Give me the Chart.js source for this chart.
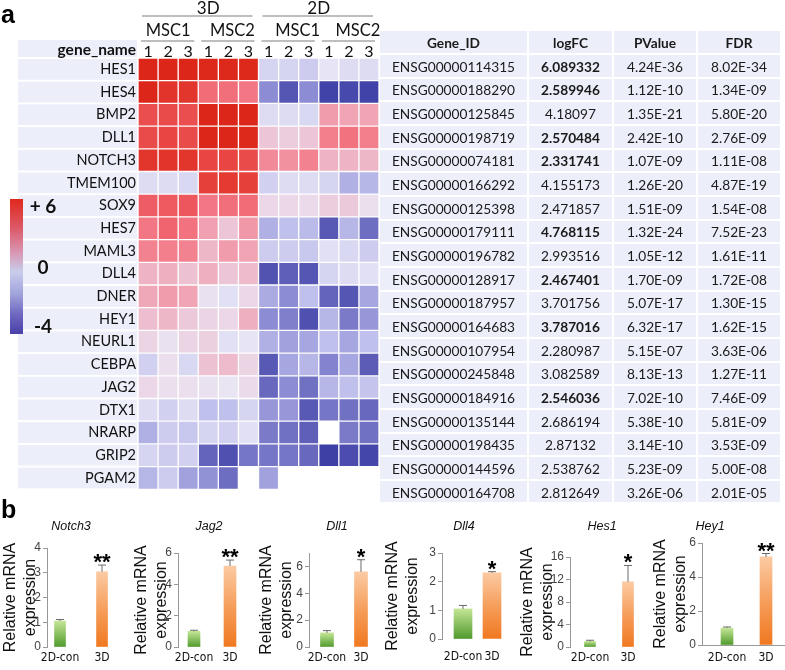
<!DOCTYPE html>
<html><head><meta charset="utf-8">
<script src="https://cdn.jsdelivr.net/npm/chart.js@4.4.1/dist/chart.umd.min.js"></script>
<style>
html,body{margin:0;padding:0;background:#fff}
body{width:785px;height:670px;position:relative;overflow:hidden}
canvas{position:absolute;display:block}
.lbl{position:absolute;font-family:Arial,'Liberation Sans',sans-serif;font-weight:bold;color:#000}
.leg{position:absolute;font-family:Lato,sans-serif;font-weight:bold;font-size:19px;line-height:19px;color:#111;text-align:center;width:40px;white-space:nowrap}
#tbl{position:absolute;left:380px;top:31px;display:grid;grid-template-columns:147px 83px 82px 82px;grid-template-rows:22px repeat(19,21.67px);gap:2px}
#tbl div{background:#eceef9;font-family:Lato,sans-serif;font-size:13.7px;color:#1a1a1a;display:flex;align-items:center;justify-content:center;white-space:nowrap;padding-top:1px;box-sizing:border-box}
#tbl div.h,#tbl div.b{font-weight:bold}
</style></head>
<body>
<canvas id="heat" width="383" height="500" style="left:0;top:0;width:383px;height:500px"></canvas>
<div id="tbl"></div>
<div class="lbl" style="left:1px;top:2px;font-size:25px;line-height:25px">a</div>
<div class="lbl" style="left:1px;top:497px;font-size:25px;line-height:25px">b</div>
<div style="position:absolute;left:10px;top:199px;width:13px;height:135px;background:linear-gradient(to bottom,#e0281c 0%,#dc5a6a 22%,#d898b4 40%,#c8cdec 54%,#a2a4dc 70%,#6c66c0 86%,#4a40a8 100%)"></div>
<div class="leg" style="left:23px;top:196px">+ 6</div>
<div class="leg" style="left:23px;top:257px">0</div>
<div class="leg" style="left:23px;top:316px">-4</div>
<script>
// ---------- heatmap data ----------
const genes = ['HES1','HES4','BMP2','DLL1','NOTCH3','TMEM100','SOX9','HES7','MAML3','DLL4','DNER','HEY1','NEURL1','CEBPA','JAG2','DTX1','NRARP','GRIP2','PGAM2'];
const conditions = ['3D','2D'];
const donors = ['MSC1','MSC2','MSC1','MSC2'];
const reps = ['1','2','3','1','2','3','1','2','3','1','2','3'];
const heatValues = [
 [6.0,6.0,6.0,5.9,5.9,5.9,-0.5,-0.5,-0.7,-0.1,-0.3,-0.3],
 [6.0,5.3,5.2,3.4,3.3,3.1,-2.0,-3.3,-2.0,-3.9,-3.7,-3.9],
 [4.3,4.4,4.3,6.0,6.0,6.0,-0.3,-0.3,-0.4,2.1,1.9,1.9],
 [4.4,4.6,4.4,6.0,6.0,5.9,1.0,0.8,1.0,2.9,3.2,2.9],
 [5.2,5.3,5.2,4.6,4.6,4.4,2.6,2.4,2.8,1.5,1.5,1.4],
 [-0.3,-0.3,-0.4,4.8,5.0,4.8,-0.6,-0.3,-0.3,-0.5,-1.3,-1.2],
 [3.8,3.9,4.0,3.1,3.3,3.4,0.5,0.5,0.4,0.8,0.9,0.3],
 [3.1,3.6,3.2,2.0,1.0,2.2,-1.3,-1.0,-1.1,-3.2,-1.2,-2.7],
 [2.8,2.9,2.8,1.4,2.1,1.9,-0.7,-0.7,-0.8,-0.2,-0.4,-0.7],
 [1.5,1.6,1.1,1.6,1.0,1.3,-3.4,-3.0,-3.3,-0.5,-0.3,-0.2],
 [1.8,2.1,1.9,0.2,-0.2,0.5,-1.4,-2.0,-1.0,-2.9,-3.3,-1.5],
 [1.2,1.4,0.9,0.6,0.5,1.6,-2.0,-2.3,-3.5,-1.2,-2.4,-1.8],
 [0.6,0.2,0.6,0.7,-0.2,-0.1,-1.3,-1.6,-1.5,-1.0,-1.5,-1.0],
 [-0.6,0.3,-0.4,1.1,1.3,0.6,-3.2,-1.5,-1.2,-2.2,-1.5,-3.1],
 [0.5,0.3,0.3,0.2,0.1,0.4,-2.8,-2.0,-2.6,-1.2,-1.0,-0.9],
 [-0.3,-0.6,-0.3,-1.0,-1.0,-0.5,-1.8,-1.8,-3.2,-2.5,-2.6,-2.8],
 [-1.3,-0.7,-0.8,-0.5,-0.6,-0.2,-2.4,-2.6,-3.0,null,-2.4,-2.6],
 [-0.5,-0.7,-0.6,-2.9,-3.5,-2.5,-2.5,-2.5,-2.8,-4.0,-3.6,-3.8],
 [-1.2,-0.7,-1.6,-1.9,-2.7,null,-1.6,null,null,null,null,null]
];
// ---------- table data ----------
const geneIds = ['ENSG00000114315','ENSG00000188290','ENSG00000125845','ENSG00000198719','ENSG00000074181','ENSG00000166292','ENSG00000125398','ENSG00000179111','ENSG00000196782','ENSG00000128917','ENSG00000187957','ENSG00000164683','ENSG00000107954','ENSG00000245848','ENSG00000184916','ENSG00000135144','ENSG00000198435','ENSG00000144596','ENSG00000164708'];
const logFC = ['6.089332','2.589946','4.18097','2.570484','2.331741','4.155173','2.471857','4.768115','2.993516','2.467401','3.701756','3.787016','2.280987','3.082589','2.546036','2.686194','2.87132','2.538762','2.812649'];
const pValues = ['4.24E-36','1.12E-10','1.35E-21','2.42E-10','1.07E-09','1.26E-20','1.51E-09','1.32E-24','1.05E-12','1.70E-09','5.07E-17','6.32E-17','5.15E-07','8.13E-13','7.02E-10','5.38E-10','3.14E-10','5.23E-09','3.26E-06'];
const fdrValues = ['8.02E-34','1.34E-09','5.80E-20','2.76E-09','1.11E-08','4.87E-19','1.54E-08','7.52E-23','1.61E-11','1.72E-08','1.30E-15','1.62E-15','3.63E-06','1.27E-11','7.46E-09','5.81E-09','3.53E-09','5.00E-08','2.01E-05'];
const boldFC = [1,1,0,1,1,0,0,1,0,1,0,1,0,0,1,0,0,0,0];
const tableHeader = ['Gene_ID','logFC','PValue','FDR'];
// ---------- qPCR data ----------
const qGenes = ['Notch3','Jag2','Dll1','Dll4','Hes1','Hey1'];
const groups = ['2D-con','3D'];
const con2D = [1.05,1.0,1.05,1.05,1.0,1.0];
const con2DErr = [0.06,0.07,0.17,0.12,0.2,0.06];
const cult3D = [3.04,5.17,5.6,2.31,11.6,5.18];
const cult3DErr = [0.27,0.38,0.9,0.04,2.9,0.2];
const sigMarks = ['**','**','*','*','*','**'];
const yMaxes = [4,6,7,3,16,6];
const ySteps = [1,2,1,1,4,2];

Chart.defaults.animation = false;
Chart.defaults.font.family = "'Liberation Sans', Arial, sans-serif";
Chart.defaults.plugins.legend.display = false;
Chart.defaults.plugins.tooltip.enabled = false;

// ---------- table ----------
const tbl = document.getElementById('tbl');
function cell(txt, cls){const d=document.createElement('div');d.textContent=txt;if(cls)d.className=cls;tbl.appendChild(d);}
tableHeader.forEach(h=>cell(h,'h'));
geneIds.forEach((g,i)=>{cell(g);cell(logFC[i],boldFC[i]?'b':'');cell(pValues[i]);cell(fdrValues[i]);});

// ---------- heatmap ----------
const stops = [[-4,[62,64,166]],[-3,[95,95,185]],[-2,[140,140,212]],[-1,[192,192,236]],[0,[234,232,246]],[1,[236,198,215]],[2,[240,160,176]],[3,[243,122,136]],[4,[237,86,92]],[5,[228,58,50]],[6,[220,38,26]]];
function heatColor(v){
  v=Math.max(-4,Math.min(6,v));
  for(let i=0;i<stops.length-1;i++){
    const [v0,c0]=stops[i],[v1,c1]=stops[i+1];
    if(v<=v1){const t=(v-v0)/(v1-v0);return 'rgb('+c0.map((c,j)=>Math.round(c+(c1[j]-c)*t)).join(',')+')';}
  }
}
const heatDatasets = reps.map((r,c)=>({
  label: conditions[Math.floor(c/6)]+' '+donors[Math.floor(c/3)]+' '+r,
  data: heatValues.map(row=>row[c]==null?null:[c,c+1]),
  backgroundColor: heatValues.map(row=>row[c]==null?'rgba(0,0,0,0)':heatColor(row[c])),
  borderColor:'rgba(255,255,255,0.22)',borderWidth:1,borderSkipped:false,
  barPercentage:1,categoryPercentage:1,grouped:false
}));
const heatDeco = {
  id:'heatDeco',
  beforeDraw(chart){
    const {ctx,scales:{y,x}}=chart;
    ctx.save();
    ctx.fillStyle='#eceef9';
    const h=y.getPixelForValue(1)-y.getPixelForValue(0);
    genes.forEach((g,i)=>{const cy=y.getPixelForValue(i);ctx.fillRect(18,cy-h/2+1,x.left-19,h-2);});
    ctx.fillRect(18,40,x.left-19,17);
    ctx.restore();
  },
  afterDraw(chart){
    const {ctx,scales:{x}}=chart;
    ctx.save();
    ctx.fillStyle='#111';ctx.textAlign='center';ctx.textBaseline='middle';
    ctx.strokeStyle='#a8a8a8';ctx.lineWidth=1.5;
    ctx.font='17px Lato';
    const topOff=[10,0];
    conditions.forEach((cond,k)=>{
      const x0=x.getPixelForValue(k*6),x1=x.getPixelForValue(k*6+6);
      ctx.fillText(cond,(x0+x1)/2+topOff[k],9);
      ctx.beginPath();ctx.moveTo(x0+4,16);ctx.lineTo(x1-6,16);ctx.stroke();
    });
    const midOff=[0,4,9,9];
    ctx.font='16.5px Lato';
    donors.forEach((d,k)=>{
      const x0=x.getPixelForValue(k*3),x1=x.getPixelForValue(k*3+3);
      ctx.fillText(d,(x0+x1)/2+midOff[k],31);
      ctx.beginPath();ctx.moveTo(x0+3,41);ctx.lineTo(x1-4,41);ctx.stroke();
    });
    ctx.font='bold 15.5px Lato';ctx.textAlign='right';
    ctx.fillText('gene_name',x.left-2,50);
    ctx.restore();
  }
};
new Chart(document.getElementById('heat'),{
  type:'bar',
  data:{labels:genes,datasets:heatDatasets},
  options:{
    indexAxis:'y',responsive:false,animation:false,
    layout:{padding:{top:40,left:0,right:4,bottom:7}},
    scales:{
      x:{type:'linear',min:0,max:12,display:false,offset:false},
      x2:{type:'category',labels:reps,position:'top',offset:true,grid:{display:false,drawTicks:false},border:{display:false},
          ticks:{font:{family:'Lato',size:16},color:'#111',padding:-3,autoSkip:false,maxRotation:0},afterFit(s){s.height=18;}},
      y:{type:'category',grid:{display:false,drawTicks:false},border:{display:false},
         ticks:{font:{family:'Lato',size:14.5},color:'#111',padding:2,autoSkip:false},afterFit(s){s.width=138;}}
    }
  },
  plugins:[heatDeco]
});

// ---------- qPCR bar charts ----------
const panelLeft=[0,131,256,382,517,650], panelWidth=[131,125,126,135,133,135], axisW=[47,47,53,60,53,52];
const xMinArr=[0.690,0.556,0.471,0.276,0.474,0.359], xMaxArr=[2.690,2.722,2.618,2.862,2.579,2.487];
const titleX=[71,209,337,464,602,710];
const barW=[11,12,13,18,11,12];
const xAxisH=[23,23,23,31,23,25];
const topPad=[33,38,38,38,42,28];
const xLabelPad=[4,4,4,11,4,6];

const errPlugin = {
  id:'errBars',
  afterDatasetsDraw(chart,args,opts){
    const {ctx,scales:{y}}=chart;
    const meta=chart.getDatasetMeta(0), ds=chart.data.datasets[0];
    ctx.save();
    ctx.strokeStyle='#6a6a6a';ctx.lineWidth=1;
    let topY=0;
    meta.data.forEach((bar,i)=>{
      const v=ds.data[i].y,e=ds.errors[i];
      const yv=y.getPixelForValue(v),yt=y.getPixelForValue(v+e);
      ctx.beginPath();ctx.moveTo(bar.x,yv);ctx.lineTo(bar.x,yt);
      ctx.moveTo(bar.x-4,yt);ctx.lineTo(bar.x+4,yt);ctx.stroke();
      if(i===1) topY=yt;
    });
    ctx.fillStyle='#000';ctx.font="bold 22px 'Liberation Sans', Arial";ctx.textAlign='center';ctx.textBaseline='alphabetic';
    ctx.fillText(ds.sig,meta.data[1].x,topY+4);
    // panel title
    ctx.font="italic 12.5px 'Liberation Sans', Arial";ctx.fillStyle='#111';ctx.textBaseline='middle';
    ctx.fillText(ds.title,opts.tx,12);
    ctx.restore();
  }
};
function barFill(c){
  const ch=c.chart,ys=ch.scales.y;
  if(!ys||!c.parsed||!isFinite(ys.getPixelForValue(c.parsed.y)))return c.dataIndex===0?'#7fbf4a':'#f49050';
  const top=ys.getPixelForValue(c.parsed.y),bot=ys.getPixelForValue(0);
  const g=ch.ctx.createLinearGradient(0,top,0,bot);
  if(c.dataIndex===0){g.addColorStop(0,'#c4e596');g.addColorStop(1,'#4f9a2c');}
  else{g.addColorStop(0,'#fccaa2');g.addColorStop(0.55,'#f59a55');g.addColorStop(1,'#f07820');}
  return g;
}
qGenes.forEach((gname,k)=>{
  const cv=document.createElement('canvas');
  cv.width=panelWidth[k];cv.height=155;
  cv.style.left=panelLeft[k]+'px';cv.style.top='515px';cv.style.width=panelWidth[k]+'px';cv.style.height='155px';
  document.body.appendChild(cv);
  new Chart(cv,{
    type:'bar',
    data:{datasets:[{
      data:groups.map((g,i)=>({x:i+1,y:i===0?con2D[k]:cult3D[k]})),
      errors:[con2DErr[k],cult3DErr[k]],sig:sigMarks[k],title:gname,
      backgroundColor:barFill,barThickness:barW[k],borderWidth:0
    }]},
    options:{
      responsive:false,animation:false,layout:{padding:{top:topPad[k],left:0,right:0,bottom:0}},
      plugins:{errBars:{tx:titleX[k]-panelLeft[k]}},
      scales:{
        x:{type:'linear',offset:false,min:xMinArr[k],max:xMaxArr[k],grid:{display:false,drawTicks:false,offset:false},border:{display:k===5,color:'#999'},
           afterBuildTicks(s){s.ticks=[{value:1},{value:2}];},
           ticks:{callback:v=>groups[Math.round(v)-1],font:{family:"'Liberation Sans Narrow','DejaVu Sans Condensed',sans-serif",size:12},color:'#111',padding:xLabelPad[k],autoSkip:false,maxRotation:0},
           afterFit(s){s.height=xAxisH[k];}},
        y:{min:0,max:yMaxes[k],ticks:{stepSize:ySteps[k],font:{size:12},color:'#444',padding:2},
           grid:{display:true,drawOnChartArea:false,drawTicks:true,tickLength:4,color:'#999'},border:{display:true,color:'#999'},
           title:{display:true,text:['Relative mRNA','expression'],font:{size:16,lineHeight:1.25},color:'#111',padding:{top:1,bottom:0}},
           afterFit(s){s.width=axisW[k];}}
      }
    },
    plugins:[errPlugin]
  });
});
</script>
</body></html>
